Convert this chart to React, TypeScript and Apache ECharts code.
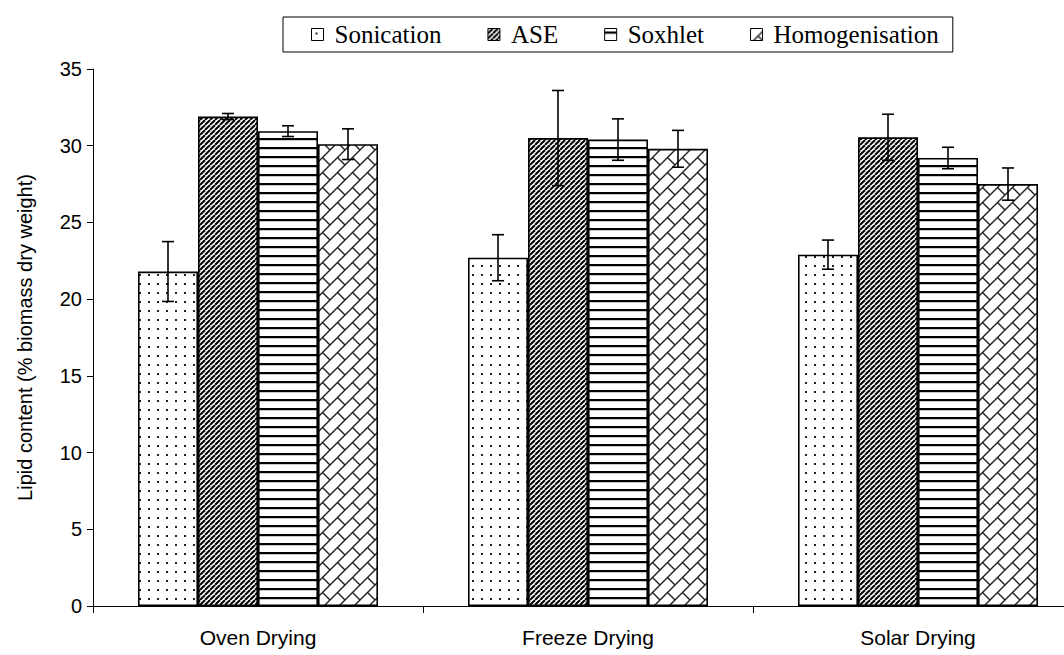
import React, { useEffect, useRef } from "react";
import * as echarts from "echarts";

const categories = ["Oven Drying", "Freeze Drying", "Solar Drying"];
const methods = ["Sonication", "ASE", "Soxhlet", "Homogenisation"];
const sonication = [21.8, 22.7, 22.9];
const sonicationErr = [1.95, 1.5, 0.95];
const ase = [31.9, 30.5, 30.55];
const aseErr = [0.2, 3.1, 1.5];
const soxhlet = [30.95, 30.4, 29.2];
const soxhletErr = [0.35, 1.35, 0.7];
const homogenisation = [30.1, 29.8, 27.5];
const homogenisationErr = [1.0, 1.2, 1.05];
const yTicks = { min: 0, max: 35, interval: 5 };

const values = [sonication, ase, soxhlet, homogenisation];
const errors = [sonicationErr, aseErr, soxhletErr, homogenisationErr];

const BAR_W = 60;

function makeCanvas(w: number, h: number) {
  const c = document.createElement("canvas");
  c.width = w;
  c.height = h;
  const ctx = c.getContext("2d")!;
  ctx.fillStyle = "#fff";
  ctx.fillRect(0, 0, w, h);
  return { c, ctx };
}

function dotPattern() {
  const { c, ctx } = makeCanvas(9, 9);
  ctx.fillStyle = "#222";
  ctx.fillRect(4, 4, 2, 2);
  return c;
}

function diagPattern() {
  const T = 5;
  const { c, ctx } = makeCanvas(T, T);
  ctx.strokeStyle = "#000";
  ctx.lineWidth = 2;
  for (let k = -1; k <= 1; k++) {
    ctx.beginPath();
    ctx.moveTo(k * T, T);
    ctx.lineTo(k * T + T, 0);
    ctx.stroke();
  }
  return c;
}

function horizPattern() {
  const { c, ctx } = makeCanvas(4, 9);
  ctx.fillStyle = "#000";
  ctx.fillRect(0, 3, 4, 2);
  ctx.fillStyle = "#c8c8c8";
  ctx.fillRect(0, 5, 4, 1);
  return c;
}

function brickPattern() {
  const T = 15;
  const h = T / Math.SQRT2;
  const w = 2 * h;
  const { c, ctx } = makeCanvas(T, T);
  ctx.strokeStyle = "#222";
  ctx.lineWidth = 1.4;
  ctx.save();
  ctx.translate(T / 2, T / 2);
  ctx.rotate(-Math.PI / 4);
  for (let k = -6; k <= 6; k++) {
    const v = k * h;
    ctx.beginPath();
    ctx.moveTo(-4 * T, v);
    ctx.lineTo(4 * T, v);
    ctx.stroke();
    for (let j = -6; j <= 6; j++) {
      const u = j * w + (Math.abs(k) % 2) * (w / 2);
      ctx.beginPath();
      ctx.moveTo(u, v);
      ctx.lineTo(u, v + h);
      ctx.stroke();
    }
  }
  ctx.restore();
  return c;
}

export default function App() {
  const ref = useRef<HTMLDivElement>(null);
  useEffect(() => {
    if (!ref.current) return;
    const chart = echarts.init(ref.current, undefined, { renderer: "svg" });
    const patterns = [dotPattern(), diagPattern(), horizPattern(), brickPattern()];
    const sans = "Liberation Sans, Arial, Helvetica, sans-serif";
    const serif = "Liberation Serif, Times New Roman, serif";

    const errData: number[][] = [];
    values.forEach((vals, s) => {
      vals.forEach((v, i) => errData.push([i, v, errors[s][i], s]));
    });

    const barSeries = methods.map((name, s) => ({
      name,
      type: "bar",
      data: values[s],
      barWidth: BAR_W,
      barGap: "0%",
      itemStyle: {
        color: { image: patterns[s], repeat: "repeat" },
        borderColor: "#000",
        borderWidth: 1.6,
      },
      emphasis: { disabled: true },
      z: 2,
    }));

    chart.setOption({
      animation: false,
      backgroundColor: "#fff",
      legend: {
        data: methods,
        left: 283,
        top: 17,
        orient: "horizontal",
        icon: "rect",
        itemWidth: 12,
        itemHeight: 12,
        itemGap: 46,
        borderColor: "#000",
        borderWidth: 1,
        padding: [5, 14, 5, 28],
        textStyle: {
          fontFamily: serif,
          fontSize: 25,
          color: "#000",
          padding: [0, 0, 0, 6],
        },
        itemStyle: { borderColor: "#000", borderWidth: 1 },
        selectedMode: false,
      },
      grid: { left: 93, top: 69, height: 537, width: 990, outerBoundsMode: "none", containLabel: false },
      xAxis: {
        type: "category",
        data: categories,
        axisLine: { lineStyle: { color: "#000", width: 1 } },
        axisTick: { show: true, length: 7, lineStyle: { color: "#000" } },
        axisLabel: { color: "#000", fontFamily: sans, fontSize: 21, margin: 21 },
      },
      yAxis: {
        type: "value",
        min: yTicks.min,
        max: yTicks.max,
        interval: yTicks.interval,
        name: "Lipid content (% biomass dry weight)",
        nameLocation: "middle",
        nameGap: 58,
        nameTextStyle: { color: "#000", fontFamily: sans, fontSize: 20 },
        axisLine: { show: true, lineStyle: { color: "#000", width: 1 } },
        axisTick: { show: true, length: 6, lineStyle: { color: "#000" } },
        axisLabel: { color: "#000", fontFamily: sans, fontSize: 20, margin: 11 },
        splitLine: { show: false },
      },
      series: [
        ...barSeries,
        {
          type: "custom",
          name: "error",
          data: errData,
          encode: { x: 0, y: 1 },
          z: 5,
          renderItem: (params: any, api: any) => {
            const ci = api.value(0);
            const v = api.value(1);
            const e = api.value(2);
            const s = api.value(3);
            const offset = (s - (methods.length - 1) / 2) * BAR_W;
            const top = api.coord([ci, v + e]);
            const bot = api.coord([ci, v - e]);
            const x = top[0] + offset;
            const cap = 6;
            const style = { stroke: "#000", lineWidth: 1.6 };
            return {
              type: "group",
              children: [
                { type: "line", shape: { x1: x, y1: top[1], x2: x, y2: bot[1] }, style },
                { type: "line", shape: { x1: x - cap, y1: top[1], x2: x + cap, y2: top[1] }, style },
                { type: "line", shape: { x1: x - cap, y1: bot[1], x2: x + cap, y2: bot[1] }, style },
              ],
            };
          },
        },
      ],
    });
    return () => chart.dispose();
  }, []);
  return (
    <div
      ref={ref}
      style={{ position: "absolute", left: 0, top: 0, width: 1064, height: 655 }}
    />
  );
}
